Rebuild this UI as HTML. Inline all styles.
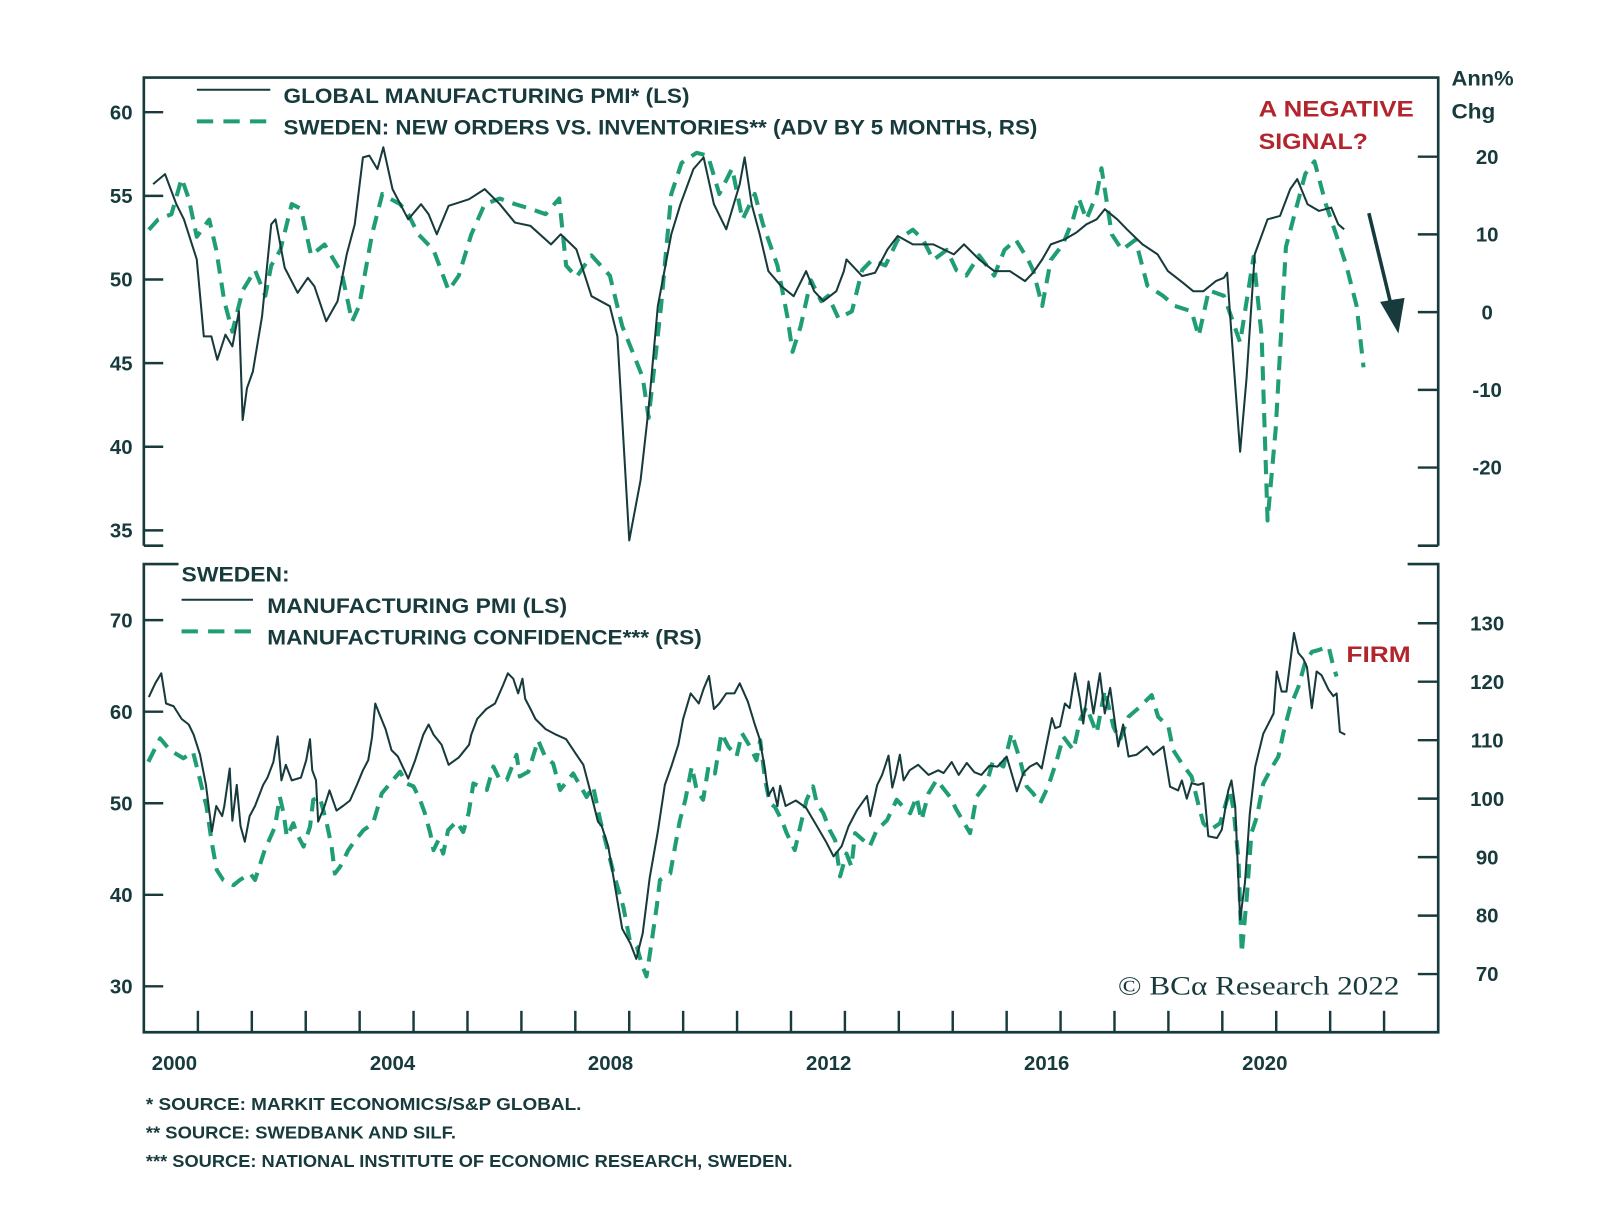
<!DOCTYPE html>
<html><head><meta charset="utf-8">
<style>
html,body{margin:0;padding:0;background:#fff;}
svg{display:block;}
text{font-family:"Liberation Sans",sans-serif;font-weight:bold;fill:#173a3c;}
</style></head>
<body>
<svg id="chart" width="1600" height="1219" viewBox="0 0 1568.6 1195.1" xmlns="http://www.w3.org/2000/svg">
  <g stroke="#173a3c" stroke-width="2.6" fill="none">
    <path d="M141,535 L141,76 L1410,76 L1410,535 M141,535 L160,535 M1390,535 L1410,535"/>
    <path d="M175,553 L141,553 L141,1012 L1410,1012 L1410,553 L1380,553"/>
  </g>
  <g id="ticks" stroke="#173a3c" stroke-width="2.4"></g>
  <g id="labels"></g>
  <g id="series" fill="none"></g>

  <g>
    <line x1="193" y1="88" x2="265" y2="88" stroke="#173a3c" stroke-width="2"/>
    <text x="278" y="101" font-size="21" textLength="398" lengthAdjust="spacingAndGlyphs">GLOBAL MANUFACTURING PMI* (LS)</text>
    <line x1="193" y1="119" x2="265" y2="119" stroke="#1f9e76" stroke-width="4" stroke-dasharray="16 10"/>
    <text x="278" y="132" font-size="21" textLength="739" lengthAdjust="spacingAndGlyphs">SWEDEN: NEW ORDERS VS. INVENTORIES** (ADV BY 5 MONTHS, RS)</text>
  </g>
  <text x="1423" y="84" font-size="21" textLength="61" lengthAdjust="spacingAndGlyphs">Ann%</text>
  <text x="1423" y="116" font-size="21" textLength="43" lengthAdjust="spacingAndGlyphs">Chg</text>
  <text x="1234" y="114" font-size="22" style="fill:#b3252d" textLength="152" lengthAdjust="spacingAndGlyphs">A NEGATIVE</text>
  <text x="1234" y="146" font-size="22" style="fill:#b3252d" textLength="107" lengthAdjust="spacingAndGlyphs">SIGNAL?</text>
  <g>
    <line x1="1342" y1="209" x2="1364" y2="300" stroke="#173a3c" stroke-width="3.5"/>
    <polygon points="1353,296 1377,292 1371,327" fill="#173a3c"/>
  </g>

  <g>
    <text x="178" y="570" font-size="21" textLength="106" lengthAdjust="spacingAndGlyphs">SWEDEN:</text>
    <line x1="178" y1="588" x2="248" y2="588" stroke="#173a3c" stroke-width="2"/>
    <text x="262" y="601" font-size="21" textLength="294" lengthAdjust="spacingAndGlyphs">MANUFACTURING PMI (LS)</text>
    <line x1="178" y1="619" x2="248" y2="619" stroke="#1f9e76" stroke-width="4" stroke-dasharray="16 10"/>
    <text x="262" y="632" font-size="21" textLength="426" lengthAdjust="spacingAndGlyphs">MANUFACTURING CONFIDENCE*** (RS)</text>
  </g>
  <text x="1320" y="649" font-size="22" style="fill:#b3252d" textLength="63" lengthAdjust="spacingAndGlyphs">FIRM</text>
  <text x="1096" y="975" font-size="26" style="font-family:'Liberation Serif',serif;font-weight:normal" textLength="276" lengthAdjust="spacingAndGlyphs">© BCα Research 2022</text>

  <g>
    <text x="143" y="1088" font-size="17" textLength="427" lengthAdjust="spacingAndGlyphs">*   SOURCE: MARKIT ECONOMICS/S&amp;P GLOBAL.</text>
    <text x="143" y="1116" font-size="17" textLength="304" lengthAdjust="spacingAndGlyphs">**  SOURCE: SWEDBANK AND SILF.</text>
    <text x="143" y="1144" font-size="17" textLength="634" lengthAdjust="spacingAndGlyphs">*** SOURCE: NATIONAL INSTITUTE OF ECONOMIC RESEARCH, SWEDEN.</text>
  </g>
</svg>
<script>
// ---- data ----
const globalPmiDates = [2000.17,2000.39,2000.60,2000.74,2000.98,2001.11,2001.25,2001.36,2001.51,2001.64,2001.76,2001.83,2001.91,2002.02,2002.19,2002.36,2002.44,2002.61,2002.85,2003.04,2003.16,2003.38,2003.59,2003.76,2003.91,2004.06,2004.18,2004.33,2004.44,2004.61,2004.90,2005.14,2005.28,2005.43,2005.65,2005.84,2006.03,2006.32,2006.60,2006.88,2007.17,2007.55,2007.73,2008.02,2008.30,2008.64,2008.78,2009.00,2009.21,2009.36,2009.53,2009.78,2009.95,2010.19,2010.38,2010.57,2010.80,2011.05,2011.14,2011.27,2011.42,2011.58,2011.82,2012.05,2012.28,2012.43,2012.60,2012.84,2012.98,2013.03,2013.32,2013.56,2013.79,2013.98,2014.26,2014.64,2014.83,2015.02,2015.21,2015.49,2015.77,2016.06,2016.34,2016.49,2016.66,2016.82,2017.08,2017.29,2017.48,2017.67,2017.82,2018.05,2018.23,2018.52,2018.80,2018.99,2019.27,2019.46,2019.65,2019.88,2020.03,2020.09,2020.14,2020.33,2020.45,2020.60,2020.84,2021.07,2021.26,2021.39,2021.58,2021.79,2022.02,2022.15,2022.26];
const globalPmi = [55.7,56.3,54.5,53.6,51.2,46.6,46.6,45.2,46.7,46.0,48.1,41.6,43.5,44.5,47.8,53.3,53.6,50.7,49.2,50.1,49.6,47.5,48.7,51.5,53.3,57.3,57.4,56.6,57.9,55.4,53.6,54.5,53.9,52.7,54.4,54.6,54.8,55.4,54.5,53.4,53.2,52.1,52.7,51.8,49.0,48.4,46.6,34.4,38.0,42.3,48.4,52.7,54.5,56.6,57.3,54.5,53.0,55.7,57.3,54.5,52.7,50.5,49.6,49.0,50.5,49.3,48.7,49.3,50.5,51.2,50.2,50.4,51.8,52.6,52.1,52.1,51.8,51.5,52.1,51.2,50.5,50.5,49.9,50.4,51.2,52.1,52.4,52.8,53.3,53.6,54.2,53.6,53.0,52.1,51.5,50.5,49.8,49.3,49.3,49.9,50.1,50.4,48.1,39.7,44.1,51.5,53.6,53.8,55.4,56.0,54.5,54.1,54.3,53.3,53.0];

const ordersDates = [2000.09,2000.26,2000.51,2000.70,2000.83,2000.98,2001.21,2001.34,2001.49,2001.64,2001.83,2002.06,2002.25,2002.36,2002.53,2002.74,2002.91,2003.10,2003.35,2003.67,2003.86,2003.99,2004.23,2004.42,2004.56,2004.75,2004.90,2005.09,2005.37,2005.65,2005.84,2006.07,2006.32,2006.60,2006.88,2007.17,2007.45,2007.70,2007.83,2008.02,2008.30,2008.64,2008.87,2009.06,2009.25,2009.36,2009.59,2009.78,2009.97,2010.25,2010.46,2010.67,2010.91,2011.10,2011.33,2011.48,2011.75,2011.93,2012.03,2012.18,2012.37,2012.56,2012.69,2012.88,2013.13,2013.32,2013.50,2013.75,2013.98,2014.26,2014.45,2014.64,2014.89,2015.07,2015.25,2015.49,2015.77,2015.96,2016.17,2016.40,2016.49,2016.66,2016.82,2017.04,2017.23,2017.34,2017.48,2017.67,2017.76,2017.95,2018.14,2018.39,2018.61,2018.90,2019.12,2019.43,2019.56,2019.75,2020.03,2020.33,2020.58,2020.73,2020.84,2020.99,2021.18,2021.54,2021.71,2021.92,2022.11,2022.30,2022.49,2022.62];
const ordersChg = [10.6,11.9,12.6,17.2,14.6,9.7,11.9,8.0,1.4,-2.5,2.8,5.4,2.1,6.0,8.0,13.9,13.3,7.3,8.7,5.0,-1.2,0.8,10.0,15.2,14.6,13.9,12.6,10.0,8.0,2.8,4.7,10.0,13.9,14.6,13.9,13.3,12.6,14.6,6.0,4.5,7.3,4.7,-1.8,-5.1,-8.4,-13.6,0.8,15.2,19.2,20.5,20.1,15.2,18.5,11.9,15.2,11.3,6.0,-0.5,-5.1,-1.8,4.1,1.4,2.1,-0.8,0.1,5.4,6.7,6.0,9.3,10.6,9.3,6.7,8.0,5.4,4.7,7.3,4.7,8.0,9.3,6.7,5.4,0.8,6.7,8.7,11.9,14.6,11.9,15.2,18.5,10.0,8.0,9.3,3.4,2.1,0.8,0.1,-3.1,2.8,2.1,-3.9,7.1,-3.1,-26.8,-15.0,8.4,17.8,19.4,13.9,10.0,6.0,0.8,-7.1];

const swePmiDates = [2000.09,2000.21,2000.32,2000.41,2000.55,2000.70,2000.83,2000.92,2001.04,2001.15,2001.26,2001.34,2001.45,2001.49,2001.59,2001.64,2001.72,2001.79,2001.87,2001.96,2002.06,2002.21,2002.29,2002.40,2002.48,2002.55,2002.63,2002.74,2002.91,2003.01,2003.08,2003.12,2003.19,2003.23,2003.35,2003.44,2003.57,2003.69,2003.82,2003.95,2004.06,2004.16,2004.23,2004.29,2004.37,2004.48,2004.59,2004.71,2004.90,2005.03,2005.18,2005.28,2005.37,2005.52,2005.65,2005.84,2006.03,2006.07,2006.18,2006.35,2006.51,2006.66,2006.75,2006.85,2006.94,2007.02,2007.07,2007.17,2007.26,2007.45,2007.64,2007.83,2008.02,2008.15,2008.30,2008.42,2008.49,2008.61,2008.74,2008.87,2009.02,2009.13,2009.25,2009.38,2009.53,2009.66,2009.78,2009.91,2010.00,2010.14,2010.29,2010.38,2010.48,2010.57,2010.67,2010.80,2010.95,2011.05,2011.20,2011.33,2011.42,2011.52,2011.58,2011.67,2011.75,2011.80,2011.90,2012.09,2012.28,2012.46,2012.65,2012.79,2012.94,2013.07,2013.22,2013.41,2013.47,2013.60,2013.69,2013.81,2013.88,2013.94,2014.02,2014.09,2014.20,2014.36,2014.55,2014.73,2014.83,2014.98,2015.11,2015.26,2015.40,2015.53,2015.68,2015.83,2016.00,2016.19,2016.31,2016.43,2016.56,2016.65,2016.84,2016.90,2016.99,2017.08,2017.17,2017.27,2017.36,2017.42,2017.52,2017.61,2017.73,2017.82,2017.92,2018.07,2018.16,2018.26,2018.41,2018.60,2018.72,2018.91,2019.03,2019.18,2019.25,2019.34,2019.43,2019.55,2019.65,2019.74,2019.90,2019.99,2020.11,2020.17,2020.24,2020.33,2020.42,2020.51,2020.61,2020.76,2020.89,2020.95,2021.01,2021.10,2021.19,2021.33,2021.41,2021.50,2021.57,2021.66,2021.75,2021.84,2021.97,2022.06,2022.12,2022.18,2022.28];
const swePmi = [61.6,63.1,64.2,60.9,60.6,59.2,58.6,57.5,55.3,52.0,46.9,49.7,48.6,49.7,53.8,48.1,52.0,47.5,45.8,48.6,49.7,52.0,52.8,54.5,57.3,52.5,54.2,52.5,52.8,54.7,57.0,53.6,52.5,48.0,49.7,51.4,49.2,49.7,50.3,52.0,53.6,54.7,57.2,60.9,59.7,58.1,55.8,55.1,52.7,54.7,57.5,58.6,57.5,56.4,54.2,55.0,56.4,57.5,59.2,60.3,60.9,62.9,64.2,63.6,62.0,63.6,61.4,60.3,59.2,58.1,57.5,57.0,55.3,54.2,50.8,48.0,47.5,45.3,40.8,36.3,34.7,33.0,35.8,41.9,46.9,52.0,54.0,56.4,59.2,62.0,60.9,62.5,63.9,60.3,60.9,62.0,62.0,63.1,61.1,58.6,57.0,53.6,50.8,51.7,49.7,51.9,49.7,50.3,49.5,47.7,45.8,44.2,45.3,47.5,49.2,50.8,48.6,52.0,53.1,55.2,51.7,53.1,55.3,52.5,53.6,54.2,53.1,53.6,53.3,54.5,53.1,54.4,53.4,53.1,54.1,54.0,55.1,51.3,53.3,54.0,54.4,53.8,59.3,58.2,58.4,60.9,60.4,64.2,61.3,58.7,63.3,59.8,64.2,59.8,62.6,56.2,58.6,55.1,55.3,56.2,55.3,56.2,51.8,51.4,52.5,50.5,52.2,52.0,52.2,46.4,46.2,47.1,51.4,52.5,49.6,37.3,41.3,48.9,54.0,57.6,59.1,59.8,64.4,62.2,62.2,68.6,66.4,65.8,64.9,60.4,64.4,64.0,62.4,61.7,62.0,57.8,57.5];

const confDates = [2000.08,2000.30,2000.48,2000.73,2000.91,2001.04,2001.16,2001.26,2001.35,2001.47,2001.66,2001.78,2001.97,2002.06,2002.24,2002.43,2002.52,2002.59,2002.65,2002.77,2002.83,2002.96,2003.08,2003.14,2003.26,2003.39,2003.48,2003.54,2003.64,2003.79,2003.88,2004.07,2004.25,2004.41,2004.62,2004.75,2004.87,2005.00,2005.12,2005.21,2005.31,2005.37,2005.46,2005.55,2005.64,2005.80,2005.92,2006.02,2006.11,2006.36,2006.48,2006.60,2006.73,2006.91,2006.97,2007.13,2007.31,2007.44,2007.59,2007.72,2007.96,2008.21,2008.33,2008.46,2008.71,2008.89,2009.01,2009.14,2009.23,2009.32,2009.42,2009.51,2009.57,2009.76,2009.85,2009.94,2010.04,2010.16,2010.25,2010.37,2010.47,2010.59,2010.71,2010.84,2010.99,2011.09,2011.24,2011.36,2011.43,2011.52,2011.61,2011.70,2011.83,2011.92,2012.07,2012.20,2012.29,2012.41,2012.48,2012.60,2012.72,2012.82,2012.91,2013.03,2013.12,2013.19,2013.34,2013.46,2013.59,2013.78,2013.96,2014.08,2014.21,2014.33,2014.42,2014.55,2014.70,2014.95,2015.07,2015.32,2015.44,2015.63,2015.75,2015.94,2016.09,2016.25,2016.37,2016.49,2016.62,2016.77,2016.93,2017.05,2017.24,2017.36,2017.48,2017.67,2017.82,2017.98,2018.10,2018.26,2018.47,2018.69,2018.81,2019.00,2019.09,2019.25,2019.43,2019.55,2019.65,2019.77,2019.96,2020.14,2020.21,2020.30,2020.36,2020.45,2020.54,2020.64,2020.76,2020.89,2021.04,2021.13,2021.26,2021.41,2021.53,2021.66,2021.78,2021.97,2022.06,2022.12];
const confidence = [106.3,110.3,108.3,106.9,108.0,103.2,98.6,92.4,87.8,86.1,85.2,86.1,87.2,86.1,91.2,95.2,100.3,97.5,93.5,95.8,94.1,91.8,95.2,99.8,100.3,95.8,91.8,87.2,88.4,91.2,92.4,94.6,95.8,100.9,103.2,104.6,102.6,102.1,99.8,97.5,94.1,91.2,92.9,90.6,94.6,96.1,94.3,97.5,102.6,101.5,105.5,103.2,103.2,107.5,103.8,104.6,110.0,107.2,106.0,101.5,104.3,100.3,102.1,96.4,87.2,81.5,75.8,74.7,71.8,69.6,75.8,81.5,86.1,87.2,91.8,96.3,99.8,105.5,101.5,99.8,105.5,104.3,111.2,108.9,107.2,111.2,108.9,106.6,110.0,103.2,99.2,98.6,96.3,94.1,91.2,96.3,99.8,102.1,99.2,97.5,94.6,92.9,86.7,90.6,88.4,94.1,92.9,91.8,94.6,96.3,99.8,98.6,97.5,100.3,96.3,100.9,103.2,100.3,98.1,94.1,100.3,102.6,106.6,105.5,111.2,106.6,102.1,100.9,99.2,102.1,106.6,110.6,108.3,113.4,115.7,111.2,118.6,112.3,110.0,114.0,115.7,117.7,114.0,112.3,108.3,106.0,103.8,99.2,95.8,94.6,95.8,101.5,98.1,89.5,73.6,82.7,94.1,96.9,102.6,104.9,107.2,111.2,115.7,119.1,123.1,125.1,125.4,126.0,122.6,120.9];

const topLeftTicks = [60,55,50,45,40,35];
const topRightTicks = [20,10,0,-10,-20];
const botLeftTicks = [70,60,50,40,30];
const botRightTicks = [130,120,110,100,90,80,70];
const xLabelYears = [2000,2004,2008,2012,2016,2020];
const xTickYears = [2001,2002,2003,2004,2005,2006,2007,2008,2009,2010,2011,2012,2013,2014,2015,2016,2017,2018,2019,2020,2021,2022,2023];

// ---- scales ----
const X = t => 194 + (t - 2001) * 52.86;
const yTopL = v => 110 + (60 - v) * 16.4;
const yTopR = v => 306 - v * 7.62;
const yBotL = v => 608 + (70 - v) * 8.975;
const yBotR = v => 611 + (130 - v) * 5.733;

const NS = 'http://www.w3.org/2000/svg';
const ticksG = document.getElementById('ticks');
const labelsG = document.getElementById('labels');
const seriesG = document.getElementById('series');

function mk(tag, attrs, parent){
  const e = document.createElementNS(NS, tag);
  for (const k in attrs) e.setAttribute(k, attrs[k]);
  parent.appendChild(e);
  return e;
}

function axis(vals, yf, side){
  vals.forEach(v => {
    const y = yf(v);
    const x1 = side === 'L' ? 141 : 1390, x2 = side === 'L' ? 160 : 1410;
    const ln = mk('line', {x1:x1, y1:y, x2:x2, y2:y}, ticksG);
    
    
    const tx = mk('text', {x: side === 'L' ? 130 : 1458, y: y + 7, 'font-size': 20, 'text-anchor': side === 'L' ? 'end' : 'middle'}, labelsG);
    tx.textContent = String(v);
    
    
  });
}
axis(topLeftTicks, yTopL, 'L');
axis(topRightTicks, yTopR, 'R');
axis(botLeftTicks, yBotL, 'L');
axis(botRightTicks, yBotR, 'R');

xTickYears.forEach(t => {
  const ln = mk('line', {x1:X(t), y1:991, x2:X(t), y2:1012}, ticksG);
  
  
});
xLabelYears.forEach(yr => {
  const tx = mk('text', {x: 171 + (yr - 2000) / 4 * 213.8, y: 1049, 'font-size': 20, 'text-anchor': 'middle'}, labelsG);
  tx.textContent = String(yr);
  
  
});

function line(dates, vals, yf, dashed, name){
  const d = dates.map((t, i) => (i ? 'L' : 'M') + X(t).toFixed(1) + ',' + yf(vals[i]).toFixed(1)).join(' ');
  const attrs = dashed
    ? {d:d, stroke:'#1f9e76', 'stroke-width':4, 'stroke-dasharray':'14 9', 'stroke-linejoin':'round'}
    : {d:d, stroke:'#173a3c', 'stroke-width':2, 'stroke-linejoin':'round'};
  const p = mk('path', attrs, seriesG);
  
  
}
line(ordersDates, ordersChg, yTopR, true, 'sweden-new-orders-line');
line(globalPmiDates, globalPmi, yTopL, false, 'global-pmi-line');
line(confDates, confidence, yBotR, true, 'manufacturing-confidence-line');
line(swePmiDates, swePmi, yBotL, false, 'sweden-pmi-line');
</script>
</body></html>
